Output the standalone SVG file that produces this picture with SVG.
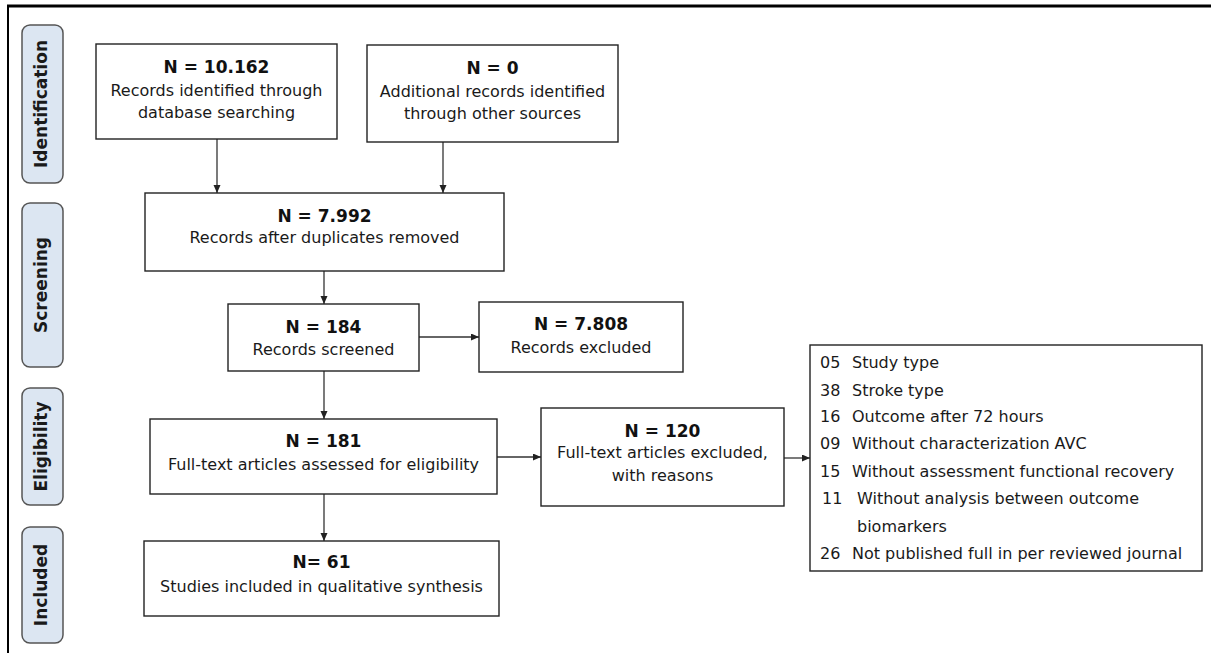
<svg xmlns="http://www.w3.org/2000/svg" width="1211" height="653" viewBox="0 0 1211 653">
  <style>
    .box { fill: #ffffff; stroke: #222222; stroke-width: 1.4; }
    .stage { fill: #dce6f2; stroke: #555555; stroke-width: 1.5; }
    .stage-label { font-family: "DejaVu Sans", Verdana, sans-serif; font-weight: bold; font-size: 17px; fill: #1a1a1a; text-anchor: middle; }
    .count { font-family: "DejaVu Sans", Verdana, sans-serif; font-weight: bold; font-size: 17px; fill: #111111; text-anchor: middle; }
    .desc { font-family: "DejaVu Sans", Verdana, sans-serif; font-size: 16px; fill: #1a1a1a; text-anchor: middle; }
    .item { font-family: "DejaVu Sans", Verdana, sans-serif; font-size: 16px; fill: #1a1a1a; }
    .conn { stroke: #333333; stroke-width: 1.3; fill: none; marker-end: url(#arrow); }
    .frame { stroke: #000000; fill: none; }
  </style>
  <defs>
    <marker id="arrow" markerUnits="userSpaceOnUse" markerWidth="9" markerHeight="8" refX="8" refY="3.5" orient="auto">
      <path d="M0,0 L8,3.5 L0,7 z" fill="#222222"/>
    </marker>
  </defs>

  <rect width="1211" height="653" fill="#ffffff"/>

  <!-- outer frame: top rule and left rule -->
  <line class="frame" x1="7" y1="6" x2="1211" y2="6" stroke-width="3"/>
  <line class="frame" x1="8" y1="5" x2="8" y2="653" stroke-width="2"/>

  <!-- stage labels -->
  <g id="stage-identification">
    <rect class="stage" x="22" y="25" width="41" height="158" rx="8"/>
    <text class="stage-label" transform="translate(47,104) rotate(-90)">Identification</text>
  </g>
  <g id="stage-screening">
    <rect class="stage" x="22" y="203" width="41" height="164" rx="8"/>
    <text class="stage-label" transform="translate(47,285) rotate(-90)">Screening</text>
  </g>
  <g id="stage-eligibility">
    <rect class="stage" x="22" y="388" width="41" height="117" rx="8"/>
    <text class="stage-label" transform="translate(47,446.5) rotate(-90)">Eligibility</text>
  </g>
  <g id="stage-included">
    <rect class="stage" x="22" y="527" width="41" height="116" rx="8"/>
    <text class="stage-label" transform="translate(47,585) rotate(-90)">Included</text>
  </g>

  <!-- connectors -->
  <g id="connectors">
    <line class="conn" x1="217" y1="139" x2="217" y2="193"/>
    <line class="conn" x1="443" y1="142" x2="443" y2="193"/>
    <line class="conn" x1="324" y1="271" x2="324" y2="304"/>
    <line class="conn" x1="324" y1="371" x2="324" y2="419"/>
    <line class="conn" x1="419" y1="337" x2="479" y2="337"/>
    <line class="conn" x1="497" y1="457" x2="541" y2="457"/>
    <line class="conn" x1="784" y1="458" x2="810" y2="458"/>
    <line class="conn" x1="324" y1="494" x2="324" y2="541"/>
  </g>

  <g id="records-database">
    <rect class="box" x="96" y="44" width="241" height="95"/>
    <text class="count" x="216.5" y="73">N = 10.162</text>
    <text class="desc" x="216.5" y="96">Records identified through</text>
    <text class="desc" x="216.5" y="118">database searching</text>
  </g>

  <g id="records-other">
    <rect class="box" x="367" y="45" width="251" height="97"/>
    <text class="count" x="492.5" y="74">N = 0</text>
    <text class="desc" x="492.5" y="97">Additional records identified</text>
    <text class="desc" x="492.5" y="119">through other sources</text>
  </g>

  <g id="records-deduplicated">
    <rect class="box" x="145" y="193" width="359" height="78"/>
    <text class="count" x="324.5" y="222">N = 7.992</text>
    <text class="desc" x="324.5" y="243">Records after duplicates removed</text>
  </g>

  <g id="records-screened">
    <rect class="box" x="228" y="304" width="191" height="67"/>
    <text class="count" x="323.5" y="333">N = 184</text>
    <text class="desc" x="323.5" y="355">Records screened</text>
  </g>

  <g id="records-excluded">
    <rect class="box" x="479" y="302" width="204" height="70"/>
    <text class="count" x="581" y="330">N = 7.808</text>
    <text class="desc" x="581" y="353">Records excluded</text>
  </g>

  <g id="fulltext-assessed">
    <rect class="box" x="150" y="419" width="347" height="75"/>
    <text class="count" x="323.5" y="447">N = 181</text>
    <text class="desc" x="323.5" y="470">Full-text articles assessed for eligibility</text>
  </g>

  <g id="fulltext-excluded">
    <rect class="box" x="541" y="408" width="243" height="98"/>
    <text class="count" x="662.5" y="437">N = 120</text>
    <text class="desc" x="662.5" y="458">Full-text articles excluded,</text>
    <text class="desc" x="662.5" y="481">with reasons</text>
  </g>

  <g id="exclusion-reasons">
    <rect class="box" x="810" y="345" width="392" height="226"/>
    <text class="item" x="820" y="368">05</text>
    <text class="item" x="852" y="368">Study type</text>
    <text class="item" x="820" y="396">38</text>
    <text class="item" x="852" y="396">Stroke type</text>
    <text class="item" x="820" y="422">16</text>
    <text class="item" x="852" y="422">Outcome after 72 hours</text>
    <text class="item" x="820" y="449">09</text>
    <text class="item" x="852" y="449">Without characterization AVC</text>
    <text class="item" x="820" y="477">15</text>
    <text class="item" x="852" y="477">Without assessment functional recovery</text>
    <text class="item" x="822" y="504">11</text>
    <text class="item" x="857" y="504">Without analysis  between outcome</text>
    <text class="item" x="857" y="532">biomarkers</text>
    <text class="item" x="820" y="559">26</text>
    <text class="item" x="852" y="559">Not published full in per reviewed journal</text>
  </g>

  <g id="studies-included">
    <rect class="box" x="144" y="541" width="355" height="75"/>
    <text class="count" x="321.5" y="568">N= 61</text>
    <text class="desc" x="321.5" y="592">Studies included in qualitative synthesis</text>
  </g>
</svg>
